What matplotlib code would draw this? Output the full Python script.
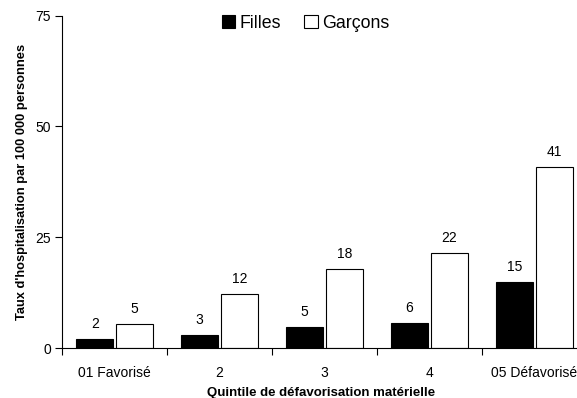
import numpy as np
from matplotlib import pyplot as plt

# Hospitalisation rates per material deprivation quintile
quintiles = ['01 Favorisé', '2', '3', '4', '05 Défavorisé']
filles = [2.0, 3.0, 4.7, 5.7, 14.8]
garcons = [5.4, 12.1, 17.8, 21.5, 40.8]

plt.rcParams['font.family'] = ['Liberation Sans', 'DejaVu Sans']

fig = plt.figure(figsize=(5.77, 3.98), dpi=100)
ax = fig.add_axes([0.108, 0.1256, 0.909, 0.835])

x = np.arange(len(quintiles))
width = 0.35
offset = 0.19
b1 = ax.bar(x - offset, filles, width, color='black', edgecolor='black', linewidth=0.8, label='Filles')
b2 = ax.bar(x + offset, garcons, width, color='white', edgecolor='black', linewidth=0.8, label='Garçons')

for bars, vals in [(b1, filles), (b2, garcons)]:
    for rect, v in zip(bars, vals):
        ax.text(rect.get_x() + rect.get_width() / 2, v + 1.8, f'{v:.0f}',
                ha='center', va='bottom', fontsize=10)

ax.set_xlim(-0.5, len(quintiles) - 0.5)
ax.set_ylim(0, 75)
ax.set_yticks([0, 25, 50, 75])
ax.set_xticks(x)
ax.set_xticklabels(quintiles, fontsize=10)
ax.set_xticks(np.arange(-0.5, len(quintiles), 1), minor=True)
ax.tick_params(axis='x', which='major', length=0, pad=13)
ax.tick_params(axis='x', which='minor', length=5, direction='out', width=0.8)
ax.tick_params(axis='y', length=5, width=0.8, labelsize=10, pad=3)

for side in ['top', 'right']:
    ax.spines[side].set_visible(False)
ax.spines['left'].set_linewidth(0.8)
ax.spines['bottom'].set_linewidth(0.8)

ax.set_xlabel('Quintile de défavorisation matérielle', fontsize=9.5, fontweight='bold')
ax.xaxis.set_label_coords(0.493, -0.118)
ax.set_ylabel("Taux d'hospitalisation par 100 000 personnes", fontsize=9.3, fontweight='bold')
ax.yaxis.set_label_coords(-0.066, 0.5)

fig.legend(handles=[b1, b2], loc='center', bbox_to_anchor=(0.53, 0.942), ncol=2,
           frameon=False, fontsize=12.8, handlelength=0.75, handleheight=0.75,
           handletextpad=0.25, columnspacing=1.3, borderaxespad=0)

fig.savefig('out.png', dpi=100)
